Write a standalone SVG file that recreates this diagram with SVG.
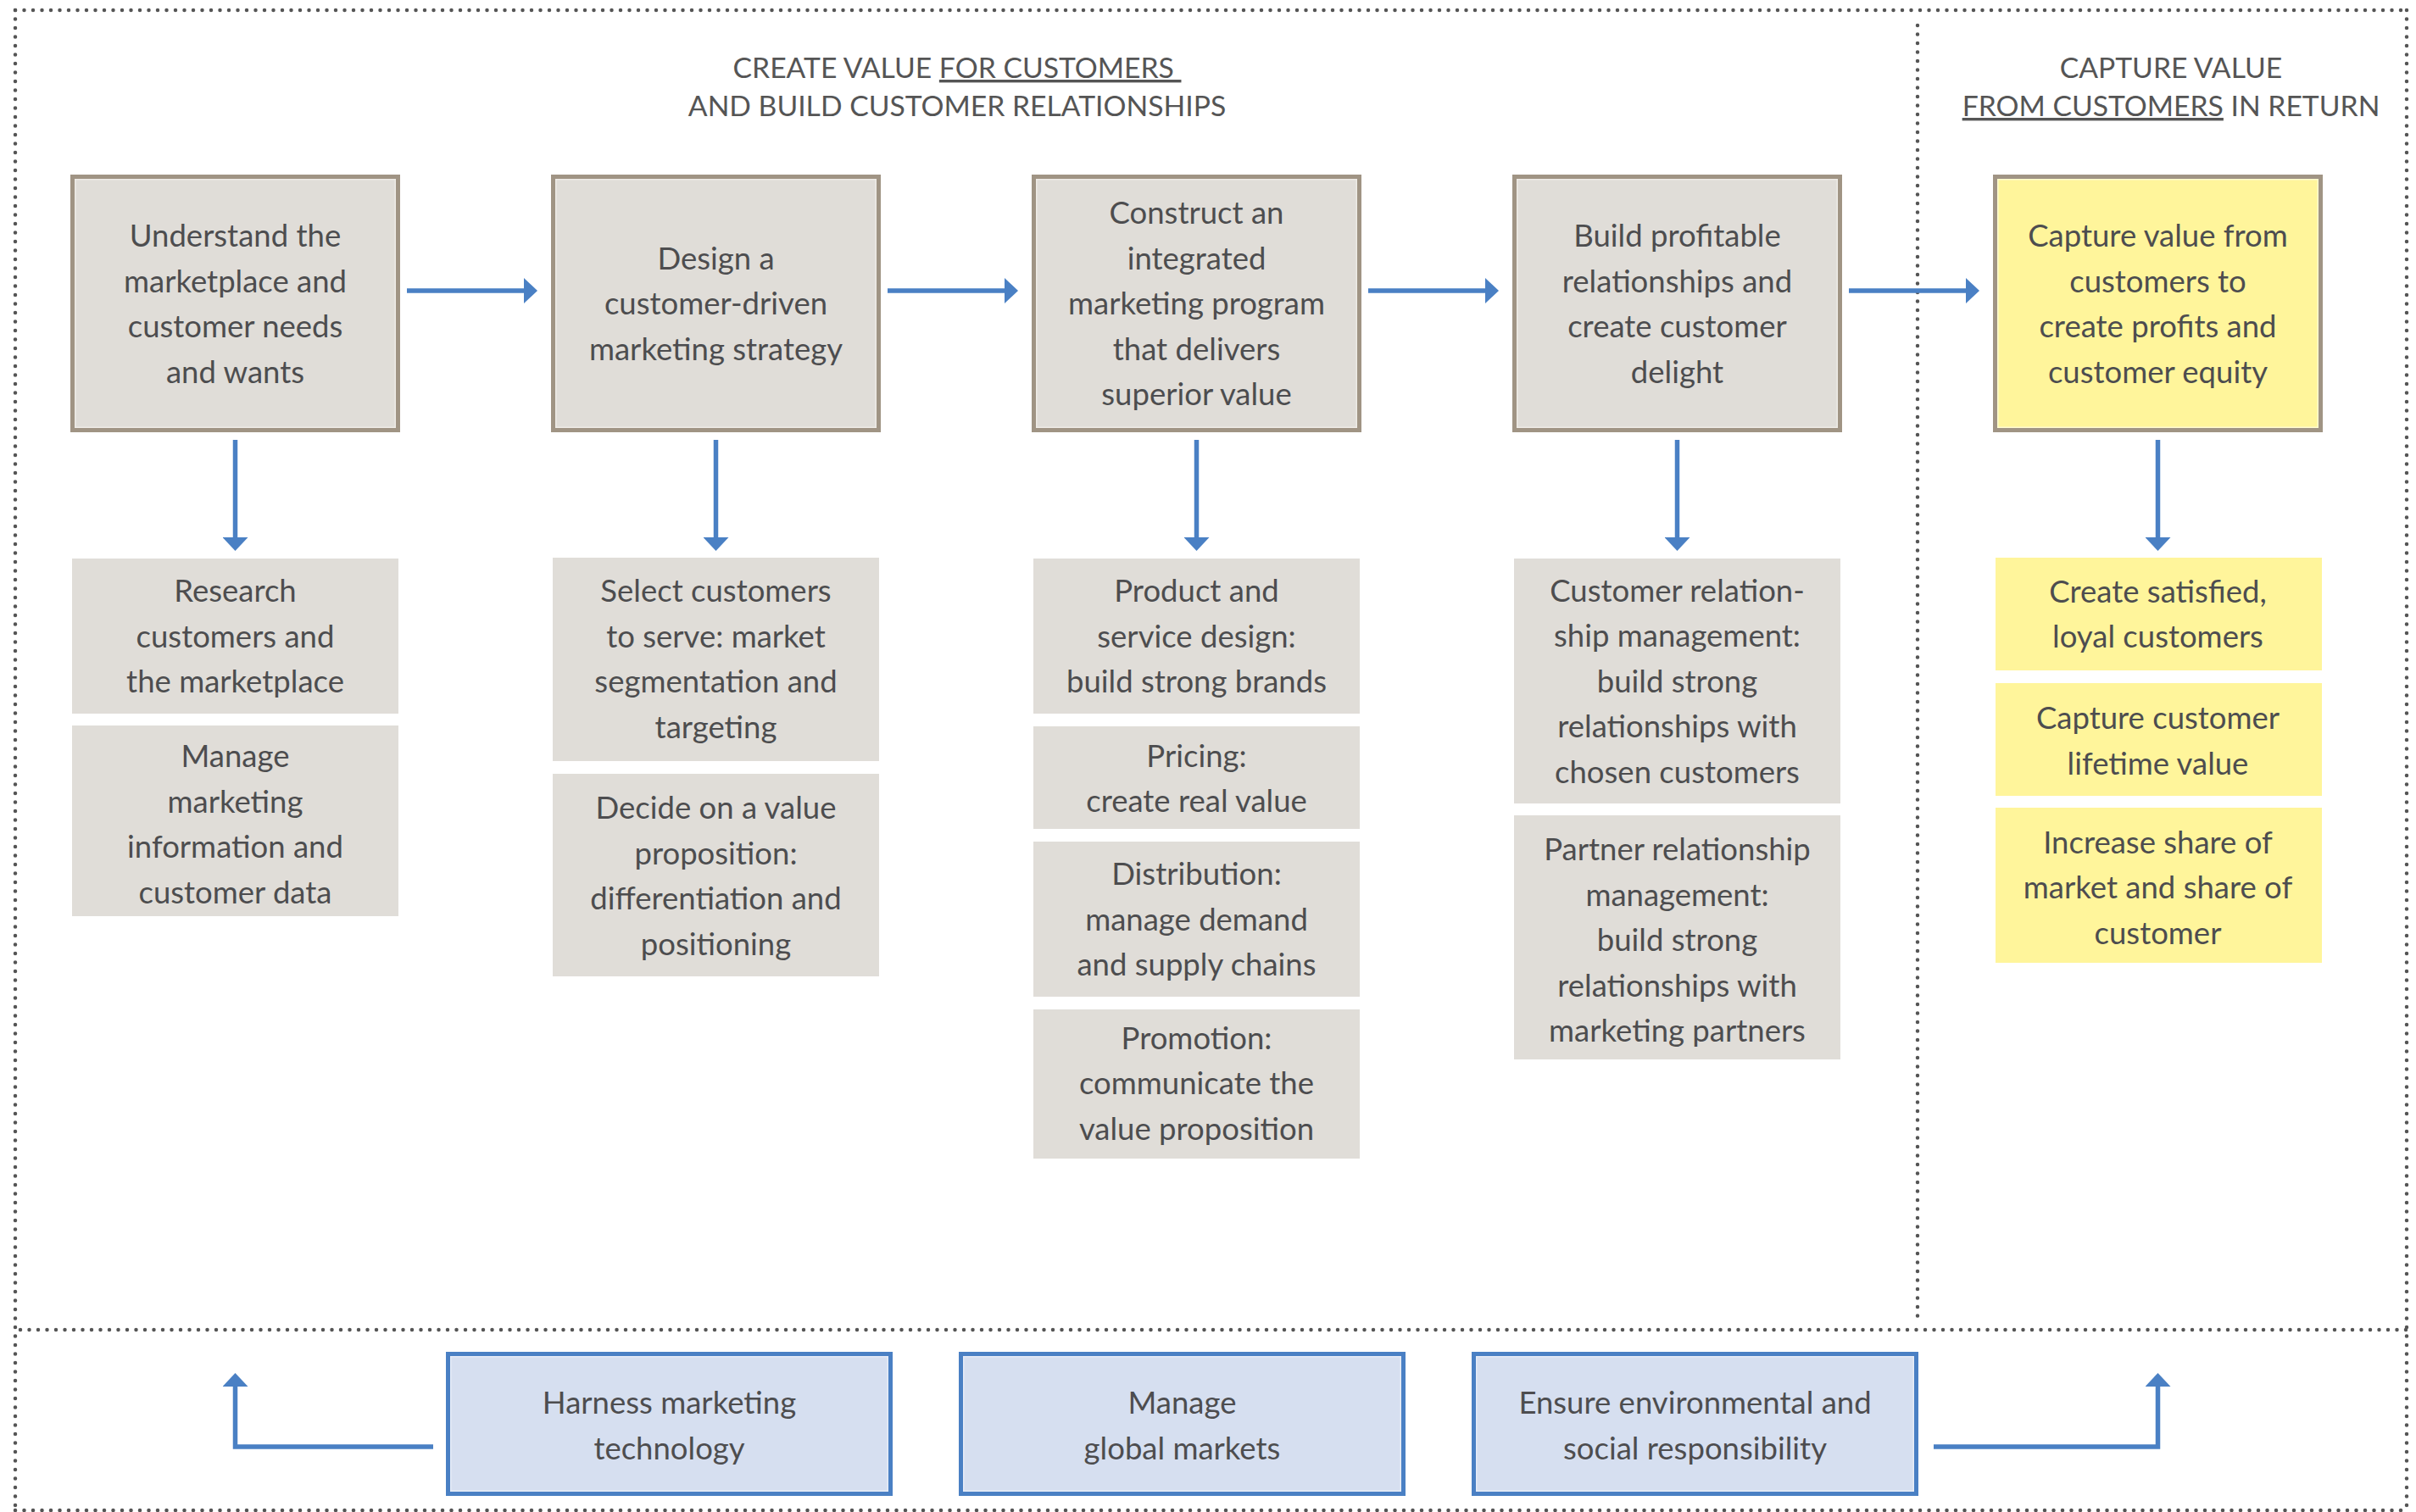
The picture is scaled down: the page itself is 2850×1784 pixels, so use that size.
<svg xmlns="http://www.w3.org/2000/svg" width="2850" height="1784" viewBox="0 0 2850 1784">
  <defs>
    <style>
      .box { fill: #e0ddd8; stroke: #a09484; stroke-width: 5; }
      .ybox { fill: #fff59b; stroke: #a09484; stroke-width: 5; }
      .bbox { fill: #d6dff0; stroke: #4a80c4; stroke-width: 5; }
      .inner { fill: none; stroke: #eeebe6; stroke-width: 1.5; }
      .binner { fill: none; stroke: #e6ecf7; stroke-width: 1.5; }
      .sub { fill: #e0ddd8; }
      .ysub { fill: #fff59b; }
      .t { font-family: Lato, "Open Sans", "Liberation Sans", sans-serif; font-size: 36.5px; fill: #4d4d4f; text-anchor: middle; }
      .h { font-family: Lato, "Open Sans", "Liberation Sans", sans-serif; font-size: 33.7px; fill: #555555; text-anchor: middle; }
      .u { text-decoration: underline; }
      .dot { fill: none; stroke: #555555; stroke-width: 4.5; stroke-linecap: round; stroke-dasharray: 0 10.5; }
      .arw { fill: none; stroke: #4a80c4; stroke-width: 5.5; stroke-linejoin: miter; }
    </style>
    <marker id="head" markerUnits="userSpaceOnUse" markerWidth="16" markerHeight="30" viewBox="0 0 16 30" refX="0" refY="15" orient="auto">
      <path d="M0 0 L16 15 L0 30 Z" fill="#4a80c4"/>
    </marker>
  </defs>

  <rect width="2850" height="1784" fill="#ffffff"/>

  <!-- dotted frame and section dividers -->
  <g id="frame">
    <path class="dot" d="M18 12 H2839"/>
    <path class="dot" d="M18 12 V1782"/>
    <path class="dot" d="M2839 12 V1782"/>
    <path class="dot" d="M18 1782 H2839"/>
    <path class="dot" d="M24 1569 H2839"/>
    <path class="dot" d="M2262 30 V1560"/>
  </g>

  <!-- section headings -->
  <g id="heading-create">
    <text class="h" x="1129" y="92" xml:space="preserve">CREATE VALUE <tspan class="u">FOR CUSTOMERS </tspan></text>
    <text class="h" x="1129" y="137">AND BUILD CUSTOMER RELATIONSHIPS</text>
  </g>
  <g id="heading-capture">
    <text class="h" x="2561" y="92">CAPTURE VALUE</text>
    <text class="h" x="2561" y="137" xml:space="preserve"><tspan class="u">FROM CUSTOMERS</tspan> IN RETURN</text>
  </g>

  <!-- main process steps -->
  <g id="step-understand">
    <rect class="box" x="85.5" y="208.5" width="384" height="299"/>
    <rect class="inner" x="88.75" y="211.75" width="377.5" height="292.5"/>
    <text class="t" x="277.5" y="291">Understand the</text>
    <text class="t" x="277.5" y="344.5">marketplace and</text>
    <text class="t" x="277.5" y="398">customer needs</text>
    <text class="t" x="277.5" y="451.5">and wants</text>
  </g>
  <g id="step-design">
    <rect class="box" x="652.5" y="208.5" width="384" height="299"/>
    <rect class="inner" x="655.75" y="211.75" width="377.5" height="292.5"/>
    <text class="t" x="844.5" y="317.5">Design a</text>
    <text class="t" x="844.5" y="371">customer-driven</text>
    <text class="t" x="844.5" y="424.5">marketing strategy</text>
  </g>
  <g id="step-construct">
    <rect class="box" x="1219.5" y="208.5" width="384" height="299"/>
    <rect class="inner" x="1222.75" y="211.75" width="377.5" height="292.5"/>
    <text class="t" x="1411.5" y="264">Construct an</text>
    <text class="t" x="1411.5" y="317.5">integrated</text>
    <text class="t" x="1411.5" y="371">marketing program</text>
    <text class="t" x="1411.5" y="424.5">that delivers</text>
    <text class="t" x="1411.5" y="478">superior value</text>
  </g>
  <g id="step-build">
    <rect class="box" x="1786.5" y="208.5" width="384" height="299"/>
    <rect class="inner" x="1789.75" y="211.75" width="377.5" height="292.5"/>
    <text class="t" x="1978.5" y="291">Build profitable</text>
    <text class="t" x="1978.5" y="344.5">relationships and</text>
    <text class="t" x="1978.5" y="398">create customer</text>
    <text class="t" x="1978.5" y="451.5">delight</text>
  </g>
  <g id="step-capture">
    <rect class="ybox" x="2353.5" y="208.5" width="384" height="299"/>
    <rect class="inner" x="2356.75" y="211.75" width="377.5" height="292.5" style="stroke:#fffbd0"/>
    <text class="t" x="2545.5" y="291">Capture value from</text>
    <text class="t" x="2545.5" y="344.5">customers to</text>
    <text class="t" x="2545.5" y="398">create profits and</text>
    <text class="t" x="2545.5" y="451.5">customer equity</text>
  </g>

  <!-- activities under each step -->
  <g id="act-research">
    <rect class="sub" x="85" y="659" width="385" height="183"/>
    <text class="t" x="277.5" y="710">Research</text>
    <text class="t" x="277.5" y="763.5">customers and</text>
    <text class="t" x="277.5" y="817">the marketplace</text>
  </g>
  <g id="act-information">
    <rect class="sub" x="85" y="856" width="385" height="225"/>
    <text class="t" x="277.5" y="905">Manage</text>
    <text class="t" x="277.5" y="958.5">marketing</text>
    <text class="t" x="277.5" y="1012">information and</text>
    <text class="t" x="277.5" y="1065.5">customer data</text>
  </g>
  <g id="act-segmentation">
    <rect class="sub" x="652" y="658" width="385" height="240"/>
    <text class="t" x="844.5" y="710">Select customers</text>
    <text class="t" x="844.5" y="763.5">to serve: market</text>
    <text class="t" x="844.5" y="817">segmentation and</text>
    <text class="t" x="844.5" y="870.5">targeting</text>
  </g>
  <g id="act-positioning">
    <rect class="sub" x="652" y="913" width="385" height="239"/>
    <text class="t" x="844.5" y="966">Decide on a value</text>
    <text class="t" x="844.5" y="1019.5">proposition:</text>
    <text class="t" x="844.5" y="1073">differentiation and</text>
    <text class="t" x="844.5" y="1126.5">positioning</text>
  </g>
  <g id="act-product">
    <rect class="sub" x="1219" y="659" width="385" height="183"/>
    <text class="t" x="1411.5" y="710">Product and</text>
    <text class="t" x="1411.5" y="763.5">service design:</text>
    <text class="t" x="1411.5" y="817">build strong brands</text>
  </g>
  <g id="act-pricing">
    <rect class="sub" x="1219" y="857" width="385" height="121"/>
    <text class="t" x="1411.5" y="904.75">Pricing:</text>
    <text class="t" x="1411.5" y="958.25">create real value</text>
  </g>
  <g id="act-distribution">
    <rect class="sub" x="1219" y="993" width="385" height="183"/>
    <text class="t" x="1411.5" y="1044">Distribution:</text>
    <text class="t" x="1411.5" y="1097.5">manage demand</text>
    <text class="t" x="1411.5" y="1151">and supply chains</text>
  </g>
  <g id="act-promotion">
    <rect class="sub" x="1219" y="1191" width="385" height="176"/>
    <text class="t" x="1411.5" y="1237.5">Promotion:</text>
    <text class="t" x="1411.5" y="1291">communicate the</text>
    <text class="t" x="1411.5" y="1344.5">value proposition</text>
  </g>
  <g id="act-crm">
    <rect class="sub" x="1786" y="659" width="385" height="289"/>
    <text class="t" x="1978.5" y="709.5">Customer relation-</text>
    <text class="t" x="1978.5" y="763">ship management:</text>
    <text class="t" x="1978.5" y="816.5">build strong</text>
    <text class="t" x="1978.5" y="870">relationships with</text>
    <text class="t" x="1978.5" y="923.5">chosen customers</text>
  </g>
  <g id="act-prm">
    <rect class="sub" x="1786" y="962" width="385" height="288"/>
    <text class="t" x="1978.5" y="1015">Partner relationship</text>
    <text class="t" x="1978.5" y="1068.5">management:</text>
    <text class="t" x="1978.5" y="1122">build strong</text>
    <text class="t" x="1978.5" y="1175.5">relationships with</text>
    <text class="t" x="1978.5" y="1229">marketing partners</text>
  </g>
  <g id="act-loyal">
    <rect class="ysub" x="2354" y="658" width="385" height="133"/>
    <text class="t" x="2545.5" y="710.5">Create satisfied,</text>
    <text class="t" x="2545.5" y="764">loyal customers</text>
  </g>
  <g id="act-lifetime">
    <rect class="ysub" x="2354" y="806" width="385" height="133"/>
    <text class="t" x="2545.5" y="860">Capture customer</text>
    <text class="t" x="2545.5" y="913.5">lifetime value</text>
  </g>
  <g id="act-share">
    <rect class="ysub" x="2354" y="953" width="385" height="183"/>
    <text class="t" x="2545.5" y="1006.5">Increase share of</text>
    <text class="t" x="2545.5" y="1060">market and share of</text>
    <text class="t" x="2545.5" y="1113.5">customer</text>
  </g>

  <!-- supporting factors -->
  <g id="factor-technology">
    <rect class="bbox" x="528.5" y="1597.5" width="522" height="165"/>
    <rect class="binner" x="531.75" y="1600.75" width="515.5" height="158.5"/>
    <text class="t" x="789.5" y="1668">Harness marketing</text>
    <text class="t" x="789.5" y="1721.5">technology</text>
  </g>
  <g id="factor-global">
    <rect class="bbox" x="1133.5" y="1597.5" width="522" height="165"/>
    <rect class="binner" x="1136.75" y="1600.75" width="515.5" height="158.5"/>
    <text class="t" x="1394.5" y="1668">Manage</text>
    <text class="t" x="1394.5" y="1721.5">global markets</text>
  </g>
  <g id="factor-responsibility">
    <rect class="bbox" x="1738.5" y="1597.5" width="522" height="165"/>
    <rect class="binner" x="1741.75" y="1600.75" width="515.5" height="158.5"/>
    <text class="t" x="1999.5" y="1668">Ensure environmental and</text>
    <text class="t" x="1999.5" y="1721.5">social responsibility</text>
  </g>

  <!-- connectors -->
  <g id="connectors">
    <path class="arw" d="M480 343 H618" marker-end="url(#head)"/>
    <path class="arw" d="M1047 343 H1185" marker-end="url(#head)"/>
    <path class="arw" d="M1614 343 H1752" marker-end="url(#head)"/>
    <path class="arw" d="M2181 343 H2319" marker-end="url(#head)"/>
    <path class="arw" d="M277.5 519 V634" marker-end="url(#head)"/>
    <path class="arw" d="M844.5 519 V634" marker-end="url(#head)"/>
    <path class="arw" d="M1411.5 519 V634" marker-end="url(#head)"/>
    <path class="arw" d="M1978.5 519 V634" marker-end="url(#head)"/>
    <path class="arw" d="M2545.5 519 V634" marker-end="url(#head)"/>
    <path class="arw" d="M511 1707 H277.5 V1636" marker-end="url(#head)"/>
    <path class="arw" d="M2281 1707 H2545.5 V1636" marker-end="url(#head)"/>
  </g>
</svg>
